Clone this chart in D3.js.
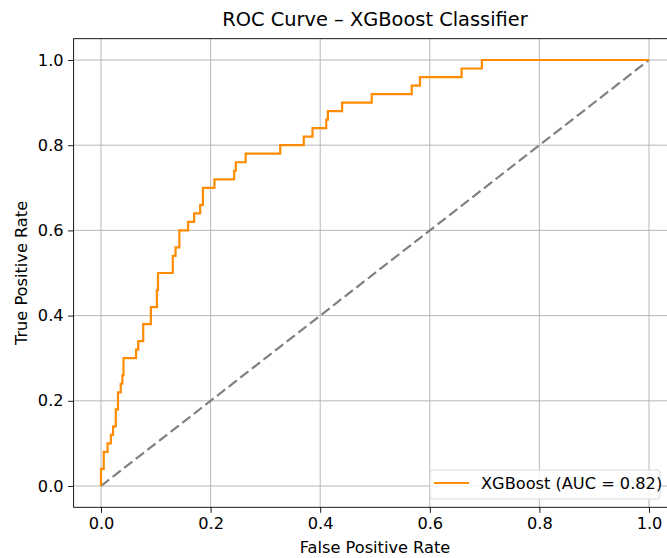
<!DOCTYPE html>
<html>
<head>
<meta charset="utf-8">
<script src="https://cdn.jsdelivr.net/npm/d3@7"></script>
<style>
  body { margin: 0; background: #fff; }
  text { font-family: "DejaVu Sans", sans-serif; fill: #000; }
</style>
</head>
<body>
<svg id="chart" width="667" height="558"></svg>
<script>
// ROC points (corners after each vertical jump)
const fpr = [0, 0, 0.005, 0.012, 0.018, 0.022, 0.027, 0.031, 0.036, 0.039, 0.041, 0.064, 0.068, 0.077, 0.091, 0.102, 0.104, 0.131, 0.136, 0.143, 0.159, 0.170, 0.181, 0.186, 0.207, 0.243, 0.246, 0.264, 0.327, 0.370, 0.386, 0.411, 0.414, 0.440, 0.494, 0.567, 0.582, 0.658, 0.695, 1.0];
const tpr = [0, 0.04, 0.08, 0.10, 0.12, 0.14, 0.18, 0.22, 0.24, 0.26, 0.30, 0.32, 0.34, 0.38, 0.42, 0.46, 0.50, 0.54, 0.56, 0.60, 0.62, 0.64, 0.66, 0.70, 0.72, 0.74, 0.76, 0.78, 0.80, 0.82, 0.84, 0.86, 0.88, 0.90, 0.92, 0.94, 0.96, 0.98, 1.0, 1.0];
const chanceLine = [0, 1];
const ticks = [0, 0.2, 0.4, 0.6, 0.8, 1.0];
const aucLabel = "XGBoost (AUC = 0.82)";

const svg = d3.select("#chart");

// axes box (right edge runs past the window, like the reference crop)
const plotLeft = 73.6, plotRight = 676.4, plotTop = 38.7, plotBottom = 507.3;
const fontSize = "16.2px";

const x = d3.scaleLinear().domain([-0.05, 1.05]).range([plotLeft, plotRight]);
const y = d3.scaleLinear().domain([-0.05, 1.05]).range([plotBottom, plotTop]);

// grid
const grid = svg.append("g");
grid.selectAll(".gx")
  .data(ticks)
  .enter()
  .append("line")
  .attr("x1", d => x(d)).attr("x2", d => x(d))
  .attr("y1", plotTop).attr("y2", plotBottom)
  .attr("stroke", "#b0b0b0")
  .attr("stroke-width", 0.9);
grid.selectAll(".gy")
  .data(ticks)
  .enter()
  .append("line")
  .attr("x1", plotLeft).attr("x2", plotRight)
  .attr("y1", d => y(d)).attr("y2", d => y(d))
  .attr("stroke", "#b0b0b0")
  .attr("stroke-width", 0.9);

// chance diagonal
svg.append("path")
  .datum(chanceLine)
  .attr("d", d3.line().x(d => x(d)).y(d => y(d)))
  .attr("fill", "none")
  .attr("stroke", "gray")
  .attr("stroke-width", 2.2)
  .attr("stroke-dasharray", "10.3,4.4");

// ROC curve
const rocLine = d3.line()
  .x((d, i) => x(fpr[i]))
  .y((d, i) => y(tpr[i]))
  .curve(d3.curveStepAfter);

svg.append("path")
  .datum(fpr)
  .attr("d", rocLine)
  .attr("fill", "none")
  .attr("stroke", "#ff8c00")
  .attr("stroke-width", 2.2);

// axes
const xAxis = svg.append("g")
  .attr("transform", `translate(0,${plotBottom})`)
  .call(d3.axisBottom(x).tickValues(ticks).tickFormat(d3.format(".1f")).tickSizeOuter(0).tickSize(5.5).tickPadding(4.5));
const yAxis = svg.append("g")
  .attr("transform", `translate(${plotLeft},0)`)
  .call(d3.axisLeft(y).tickValues(ticks).tickFormat(d3.format(".1f")).tickSizeOuter(0).tickSize(5.5).tickPadding(4.5));

[xAxis, yAxis].forEach(a => {
  a.select(".domain").remove();
  a.selectAll("line").attr("stroke", "#000").attr("stroke-width", 0.9);
  a.selectAll("text").style("font-size", fontSize).style("font-family", "DejaVu Sans, sans-serif").attr("fill", "#000");
});

// spines
svg.append("rect")
  .attr("x", plotLeft).attr("y", plotTop)
  .attr("width", plotRight - plotLeft).attr("height", plotBottom - plotTop)
  .attr("fill", "none")
  .attr("stroke", "#000").attr("stroke-width", 0.9);

// title and labels
svg.append("text")
  .attr("x", (plotLeft + plotRight) / 2)
  .attr("y", 26)
  .attr("text-anchor", "middle")
  .style("font-size", "19.4px")
  .text("ROC Curve – XGBoost Classifier");

svg.append("text")
  .attr("x", (plotLeft + plotRight) / 2)
  .attr("y", 553)
  .attr("text-anchor", "middle")
  .style("font-size", fontSize)
  .text("False Positive Rate");

svg.append("text")
  .attr("transform", `translate(27,${(plotTop + plotBottom) / 2}) rotate(-90)`)
  .attr("text-anchor", "middle")
  .style("font-size", fontSize)
  .text("True Positive Rate");

// legend
const legend = svg.append("g").attr("transform", "translate(430,470)");
legend.append("rect")
  .attr("width", 230)
  .attr("height", 29)
  .attr("rx", 3)
  .attr("fill", "#fff")
  .attr("fill-opacity", 0.8)
  .attr("stroke", "#d6d6d6")
  .attr("stroke-width", 0.9);
legend.append("line")
  .attr("x1", 4).attr("x2", 39)
  .attr("y1", 13).attr("y2", 13)
  .attr("stroke", "#ff8c00")
  .attr("stroke-width", 2.2);
legend.append("text")
  .attr("x", 51)
  .attr("y", 19)
  .style("font-size", fontSize)
  .text(aucLabel);
</script>
</body>
</html>
